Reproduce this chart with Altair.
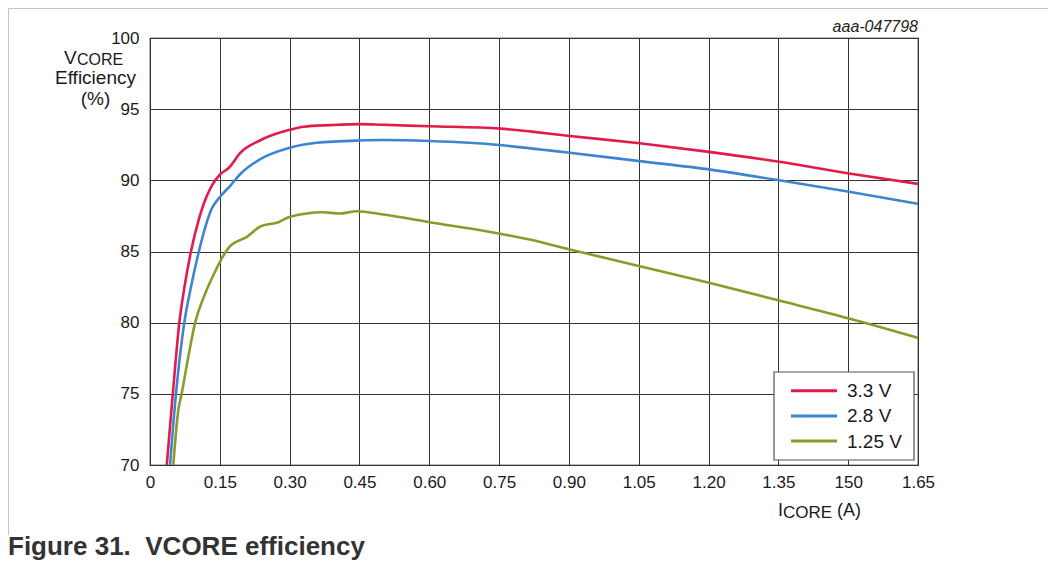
import altair as alt
import pandas as pd

# ---- data ----
series_names = ["3.3 V", "2.8 V", "1.25 V"]
series_colors = ["#E31B4B", "#3D85D1", "#8C9A2A"]

x_33 = [0.036, 0.049, 0.063, 0.074, 0.088, 0.107, 0.140, 0.152, 0.170, 0.193, 0.236, 0.300, 0.330,
        0.387, 0.451, 0.500, 0.601, 0.752, 0.820, 0.902, 1.052, 1.201, 1.352, 1.502, 1.650]
y_33 = [70.0, 75.0, 80.0, 82.5, 85.0, 87.5, 90.0, 90.45, 90.9, 91.9, 92.8, 93.55, 93.77,
        93.88, 93.95, 93.9, 93.8, 93.63, 93.42, 93.12, 92.6, 92.0, 91.3, 90.48, 89.75]

x_28 = [0.043, 0.0558, 0.0737, 0.088, 0.105, 0.1325, 0.152, 0.172, 0.193, 0.236, 0.300, 0.358,
        0.451, 0.501, 0.601, 0.752, 0.838, 0.902, 1.052, 1.201, 1.352, 1.502, 1.650]
y_28 = [70.0, 75.0, 80.0, 82.5, 85.0, 88.0, 88.9, 89.6, 90.41, 91.47, 92.29, 92.64,
        92.8, 92.83, 92.76, 92.48, 92.17, 91.94, 91.35, 90.77, 90.0, 89.2, 88.35]

x_125 = [0.050, 0.061, 0.068, 0.079, 0.097, 0.118, 0.140, 0.157, 0.172, 0.208, 0.236, 0.276, 0.301,
         0.372, 0.408, 0.444, 0.501, 0.601, 0.752, 0.816, 0.902, 1.052, 1.201, 1.352, 1.502, 1.650]
y_125 = [70.0, 73.9, 75.0, 77.0, 80.0, 82.0, 83.6, 84.67, 85.37, 86.03, 86.74, 87.06, 87.44,
         87.76, 87.67, 87.83, 87.6, 87.06, 86.25, 85.84, 85.14, 83.97, 82.8, 81.55, 80.29, 78.93]

x_ticks = [0, 0.15, 0.30, 0.45, 0.60, 0.75, 0.90, 1.05, 1.20, 1.35, 1.50, 1.65]
y_ticks = [70, 75, 80, 85, 90, 95, 100]

caption = "Figure 31.\u00a0\u00a0VCORE efficiency"
code_label = "aaa-047798"

# ---- build table ----
rows = []
for name, xs, ys in zip(series_names, [x_33, x_28, x_125], [y_33, y_28, y_125]):
    for xv, yv in zip(xs, ys):
        rows.append({"series": name, "I": xv, "eff": yv})
df = pd.DataFrame(rows)

FONT = "Liberation Sans"
TXT = "#1a1a1a"
W, H = 768, 427
PL, PT = 142, 30  # padding left / top -> plot origin on page at (150, 38)


def px(page_x):
    return page_x - 150


def py(page_y):
    return page_y - 38


color_scale = alt.Scale(domain=series_names, range=series_colors)

lines = alt.Chart(df).mark_line(strokeWidth=2.6, interpolate="monotone", clip=True).encode(
    x=alt.X("I:Q", scale=alt.Scale(domain=[0, 1.65], nice=False, zero=False),
            axis=alt.Axis(values=x_ticks, title=None, labelFlush=False,
                          labelExpr="datum.value == 0 ? '0' : (abs(datum.value - 1.5) < 1e-9 ? '150' : format(datum.value, '.2f'))")),
    y=alt.Y("eff:Q", scale=alt.Scale(domain=[70, 100], nice=False, zero=False),
            axis=alt.Axis(values=y_ticks, title=None, format="d", labelFlush=False)),
    color=alt.Color("series:N", scale=color_scale, legend=None),
    detail="series:N",
)

layers = [lines]


def text_layer(s, x, y, size=17, align="left", weight="normal", style="normal", color=TXT):
    return alt.Chart(alt.Data(values=[{"t": s}])).mark_text(
        text=s, font=FONT, fontSize=size, align=align, baseline="alphabetic",
        fontWeight=weight, fontStyle=style, color=color
    ).encode(x=alt.value(x), y=alt.value(y))


# legend box
layers.append(
    alt.Chart(alt.Data(values=[{"t": 0}])).mark_rect(fill="white", stroke="#555555", strokeWidth=1.2).encode(
        x=alt.value(px(774)), x2=alt.value(px(914)), y=alt.value(py(372)), y2=alt.value(py(460)))
)
for i, (name, col) in enumerate(zip(series_names, series_colors)):
    ly = py(390.7 + 25.2 * i)
    layers.append(
        alt.Chart(alt.Data(values=[{"t": name}])).mark_rule(color=col, strokeWidth=3).encode(
            x=alt.value(px(791)), x2=alt.value(px(837)), y=alt.value(ly))
    )
    layers.append(text_layer(name, px(847), ly + 6.5, size=19))

# y-axis title
layers.append(text_layer("V", px(64), py(64), size=19))
layers.append(text_layer("CORE", px(77), py(65), size=16))
layers.append(text_layer("Efficiency", px(95.5), py(84), size=19, align="center"))
layers.append(text_layer("(%)", px(95.5), py(105), size=19, align="center"))

# x-axis title
layers.append(text_layer("I", px(778), py(516), size=18))
layers.append(text_layer("CORE", px(783), py(517.5), size=17))
layers.append(text_layer("(A)", px(837), py(516), size=18))

# code label
layers.append(text_layer(code_label, px(918), py(31.5), size=16, align="right", style="italic", color="#222222"))

# caption
layers.append(text_layer(caption, px(8), py(555), size=26, weight="bold", color="#333333"))

# outer frame
FR = "#c4c4c4"
layers.append(alt.Chart(alt.Data(values=[{"t": 0}])).mark_rule(color=FR, strokeWidth=1).encode(
    x=alt.value(-141.5), x2=alt.value(px(1055.5)), y=alt.value(-29.5)))
layers.append(alt.Chart(alt.Data(values=[{"t": 0}])).mark_rule(color=FR, strokeWidth=1).encode(
    x=alt.value(-141.5), y=alt.value(-29.5), y2=alt.value(py(535))))
layers.append(alt.Chart(alt.Data(values=[{"t": 0}])).mark_rule(color=FR, strokeWidth=1).encode(
    x=alt.value(px(1055.5)), y=alt.value(-29.5), y2=alt.value(py(560))))

chart = alt.layer(*layers).properties(
    width=W, height=H,
    autosize=alt.AutoSizeParams(type="none"),
    padding={"left": PL, "top": PT, "right": 1040 - PL - W, "bottom": 552 - PT - H},
    background="white",
).configure_view(
    stroke="#000000", strokeWidth=1.2
).configure_axis(
    grid=True, gridColor="#333333", gridWidth=1, gridOpacity=1,
    domain=False, ticks=False,
    labelFont=FONT, labelFontSize=17, labelColor=TXT,
).configure_axisX(
    labelPadding=9
).configure_axisY(
    labelPadding=11
)

chart.save("out.html", embed_options={"renderer": "svg", "actions": False})
